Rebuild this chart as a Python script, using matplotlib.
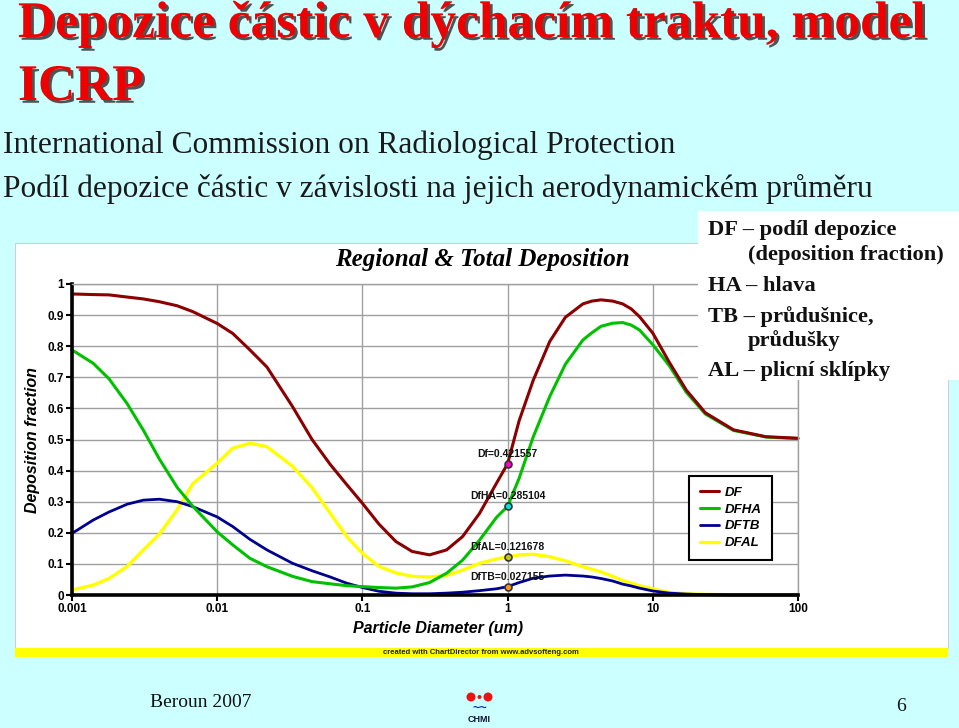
import matplotlib
matplotlib.use("Agg")
import matplotlib.pyplot as plt
import matplotlib.patches as mpatches
import matplotlib.patheffects as pe

# data
diameter = [0.001, 0.0014, 0.0018, 0.0024, 0.0031, 0.004, 0.0053, 0.0068, 0.01, 0.0128,
            0.0168, 0.022, 0.033, 0.045, 0.06, 0.078, 0.1, 0.13, 0.17, 0.22, 0.29,
            0.38, 0.49, 0.64, 0.84, 1.0, 1.2, 1.5, 1.95, 2.5, 3.3,
            3.8, 4.4, 5.3, 6.2, 7.1, 8.1, 10, 13, 17, 23, 36, 60, 100]
df = [0.968, 0.966, 0.965, 0.958, 0.952, 0.943, 0.93, 0.911, 0.873, 0.841,
      0.788, 0.733, 0.606, 0.50, 0.42, 0.355, 0.295, 0.228, 0.172, 0.14, 0.129,
      0.145, 0.188, 0.262, 0.36, 0.422, 0.56, 0.69, 0.815, 0.893, 0.936,
      0.945, 0.949, 0.945, 0.936, 0.92, 0.895, 0.842, 0.748, 0.659, 0.586, 0.531, 0.509, 0.504]
dfha = [0.788, 0.745, 0.695, 0.615, 0.53, 0.437, 0.346, 0.285, 0.203, 0.161,
        0.118, 0.091, 0.06, 0.043, 0.036, 0.03, 0.027, 0.024, 0.022, 0.026, 0.04,
        0.07, 0.112, 0.176, 0.25, 0.285, 0.375, 0.508, 0.638, 0.742, 0.82,
        0.843, 0.864, 0.874, 0.876, 0.868, 0.852, 0.805, 0.737, 0.652, 0.582, 0.529, 0.508, 0.503]
dftb = [0.198, 0.241, 0.267, 0.292, 0.305, 0.308, 0.30, 0.284, 0.251, 0.22,
        0.179, 0.145, 0.102, 0.078, 0.058, 0.038, 0.024, 0.012, 0.006, 0.004, 0.004,
        0.006, 0.009, 0.014, 0.02, 0.027, 0.04, 0.054, 0.061, 0.064, 0.061,
        0.058, 0.053, 0.045, 0.035, 0.029, 0.022, 0.013, 0.006, 0.003, 0.001, 0.0, 0.0, 0.0]
dfal = [0.016, 0.032, 0.053, 0.092, 0.145, 0.196, 0.274, 0.358, 0.424, 0.472,
        0.488, 0.477, 0.414, 0.345, 0.263, 0.188, 0.134, 0.092, 0.071, 0.06, 0.058,
        0.063, 0.08, 0.102, 0.116, 0.122, 0.129, 0.131, 0.123, 0.11, 0.091,
        0.083, 0.074, 0.06, 0.047, 0.038, 0.03, 0.02, 0.008, 0.004, 0.002, 0.0, 0.0, 0.0]

point_names = ["Df", "DfHA", "DfAL", "DfTB"]
point_values = [0.421557, 0.285104, 0.121678, 0.027155]
point_colors = ["#ff00cc", "#00e0e0", "#c8c800", "#ff9900"]

xticks = [0.001, 0.01, 0.1, 1, 10, 100]
xtick_labels = ["0.001", "0.01", "0.1", "1", "10", "100"]
yticks = [0, 0.1, 0.2, 0.3, 0.4, 0.5, 0.6, 0.7, 0.8, 0.9, 1]
ytick_labels = ["0", "0.1", "0.2", "0.3", "0.4", "0.5", "0.6", "0.7", "0.8", "0.9", "1"]

W, H = 959, 728
fig = plt.figure(figsize=(W / 100, H / 100), dpi=100, facecolor="#CCFFFF")


def fx(x):
    return x / W


def fy(y):
    return 1 - y / H


def rect(x0, y0, x1, y1, **kw):
    fig.patches.append(mpatches.Rectangle((fx(x0), fy(y1)), fx(x1) - fx(x0), fy(y0) - fy(y1),
                                          transform=fig.transFigure, **kw))


# chart image background
rect(15, 243, 948, 648, facecolor="white", edgecolor="#d0d0d0", lw=0.8, zorder=-2)
rect(15, 648, 948, 657, facecolor="#FFFF00", edgecolor="none", zorder=-2)
fig.text(fx(481), fy(652.5), "created with ChartDirector from www.advsofteng.com", ha="center", va="center",
         fontsize=5.5, fontweight="bold", family="Liberation Sans", color="#222222")

sans = "Liberation Sans"
ax = fig.add_axes([fx(72), fy(595), fx(798) - fx(72), (595 - 284) / H])
ax.set_facecolor("white")
ax.set_xscale("log")
ax.set_xlim(0.001, 100)
ax.set_ylim(0, 1)

kw = dict(clip_on=False, solid_joinstyle="round", solid_capstyle="round")
l_al, = ax.plot(diameter, dfal, color="#FFFF00", lw=2.4, label="DFAL", **kw)
l_tb, = ax.plot(diameter, dftb, color="#000090", lw=2.0, label="DFTB", **kw)
l_ha, = ax.plot(diameter, dfha, color="#00C000", lw=2.2, label="DFHA", **kw)
l_df, = ax.plot(diameter, df, color="#8B0000", lw=2.2, label="DF", **kw)

for name, val, col in zip(point_names, point_values, point_colors):
    ax.plot([1], [val], "o", ms=5, mfc=col, mec="#333333", mew=1.2, zorder=5)
    ax.annotate(f"{name}={val}", (1, val), xytext=(0, 10), textcoords="offset pixels",
                ha="center", va="center", fontsize=7.5, fontweight="bold", family=sans,
                color="#111111", zorder=6)

ax.set_xticks(xticks)
ax.set_xticklabels(xtick_labels)
ax.set_yticks(yticks)
ax.set_yticklabels(ytick_labels)
ax.minorticks_off()
ax.grid(True, color="#a0a0a0", lw=1)
ax.set_axisbelow(True)
for lab in ax.get_xticklabels() + ax.get_yticklabels():
    lab.set_fontweight("bold")
    lab.set_family(sans)
    lab.set_fontsize(8.5)
ax.tick_params(axis="both", length=4, width=1.5, color="black", pad=2)
ax.spines["left"].set_linewidth(2.6)
ax.spines["bottom"].set_linewidth(2.6)
ax.spines["top"].set_color("#a0a0a0")
ax.spines["right"].set_color("#a0a0a0")
ax.spines["top"].set_linewidth(1)
ax.spines["right"].set_linewidth(1)

leg = ax.legend(handles=[l_df, l_ha, l_tb, l_al], loc="upper left", bbox_to_anchor=(0.85, 0.383),
                borderaxespad=0, handlelength=1.5, handletextpad=0.38, labelspacing=0.35,
                borderpad=0.8, fancybox=False, edgecolor="black", framealpha=1,
                prop={"family": sans, "weight": "bold", "style": "italic", "size": 9.5})
leg.get_frame().set_linewidth(1.5)

fig.text(fx(33), fy(440), "Deposition fraction", rotation=90, ha="center", va="center",
         fontsize=11.5, fontweight="bold", fontstyle="italic", family=sans)
fig.text(fx(438), fy(628), "Particle Diameter (um)", ha="center", va="center",
         fontsize=11.5, fontweight="bold", fontstyle="italic", family=sans)
fig.text(fx(482), fy(259), "Regional & Total Deposition", ha="center", va="center",
         fontsize=18, fontweight="bold", fontstyle="italic", family="Liberation Serif")

# slide text
serif = "Liberation Serif"
shadow = [pe.withSimplePatchShadow(offset=(2, -2), shadow_rgbFace="#404040", alpha=0.9)]
fig.text(fx(18), fy(37), "Depozice částic v dýchacím traktu, model", ha="left", va="baseline",
         fontsize=37, fontweight="bold", family=serif, color="#EE0000", path_effects=shadow)
fig.text(fx(18), fy(100), "ICRP", ha="left", va="baseline",
         fontsize=37, fontweight="bold", family=serif, color="#EE0000", path_effects=shadow)
fig.text(fx(3), fy(153), "International Commission on Radiological Protection", ha="left", va="baseline",
         fontsize=22.6, family=serif, color="#1a1a1a")
fig.text(fx(3), fy(197), "Podíl depozice částic v závislosti na jejich aerodynamickém průměru",
         ha="left", va="baseline", fontsize=22.6, family=serif, color="#1a1a1a")

rect(698, 211, 959, 380, facecolor="white", edgecolor="none", zorder=2)
box_lines = [("DF – podíl depozice", 708, 235), ("(deposition fraction)", 748, 260),
             ("HA – hlava", 708, 291), ("TB – průdušnice,", 708, 322),
             ("průdušky", 748, 346), ("AL – plicní sklípky", 708, 376)]
for txt, x, y in box_lines:
    fig.text(fx(x), fy(y), txt, ha="left", va="baseline", fontsize=16.2, fontweight="bold",
             family=serif, color="#111111", zorder=4)

# footer
fig.text(fx(150), fy(707), "Beroun 2007", ha="left", va="baseline", fontsize=14, family=serif, color="#111111")
fig.text(fx(896), fy(711), "6", ha="left", va="baseline", fontsize=14, family=serif, color="#111111")
for cx in (471, 488):
    fig.patches.append(mpatches.Ellipse((fx(cx), fy(697)), 9 / W, 9 / H, transform=fig.transFigure,
                                        facecolor="#ee1111", edgecolor="none", zorder=2))
fig.patches.append(mpatches.Ellipse((fx(479.5), fy(697)), 4 / W, 4 / H, transform=fig.transFigure,
                                    facecolor="#ee1111", edgecolor="none", zorder=2))
fig.text(fx(479.5), fy(709), "~~", ha="center", va="center", fontsize=9, fontweight="bold",
         family=sans, color="#0033cc")
fig.text(fx(479.5), fy(720), "CHMI", ha="center", va="center", fontsize=6.5, fontweight="bold",
         family=sans, color="#111133")

fig.savefig("out.png", dpi=100, facecolor=fig.get_facecolor())
